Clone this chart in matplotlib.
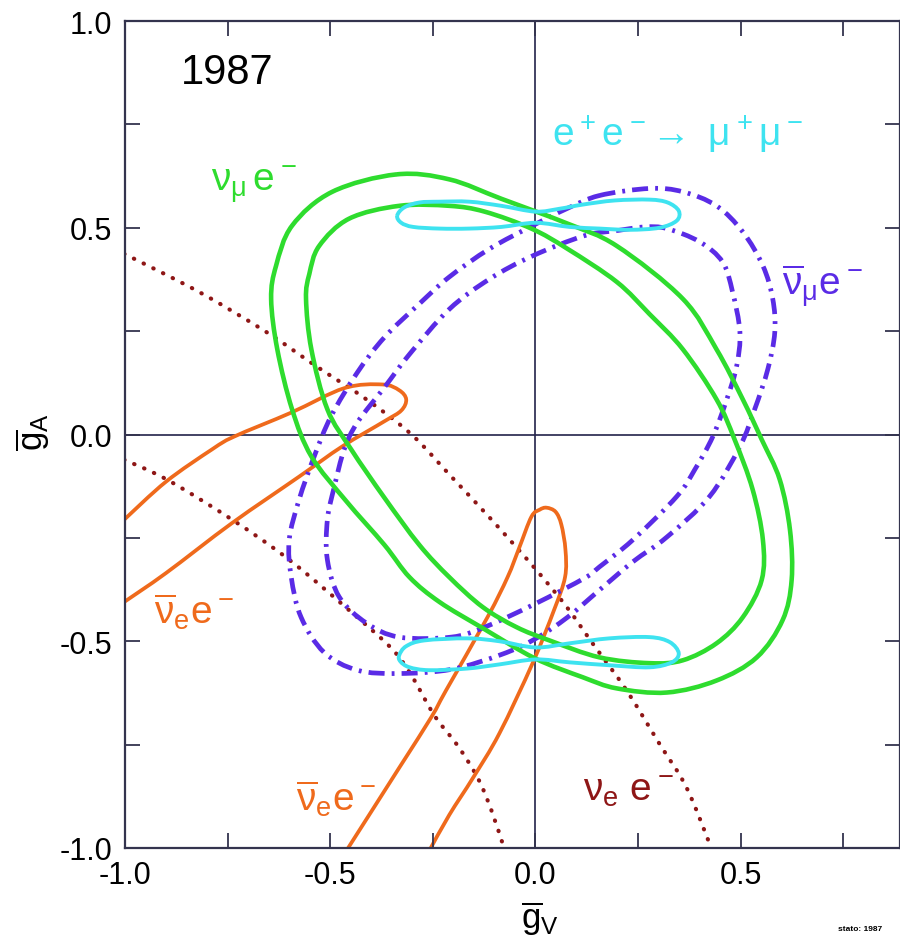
import matplotlib
matplotlib.use('Agg')
from matplotlib import pyplot as plt
from matplotlib.ticker import FormatStrFormatter
from matplotlib.path import Path
from matplotlib.patches import PathPatch

plt.rcParams['font.family'] = ['Liberation Sans', 'DejaVu Sans']
plt.rcParams['mathtext.fontset'] = 'custom'
plt.rcParams['mathtext.rm'] = 'Liberation Sans'
plt.rcParams['mathtext.it'] = 'Liberation Sans'
plt.rcParams['mathtext.sf'] = 'Liberation Sans'
plt.rcParams['mathtext.bf'] = 'Liberation Sans:bold'
plt.rcParams['axes.unicode_minus'] = False

# numu e- contours (green), outer and inner
numu_out_v = [-0.339, -0.210, -0.083, 0.078, 0.198, 0.359, 0.441, 0.505, 0.551, 0.595, 0.620, 0.624,
              0.602, 0.539, 0.441, 0.320, 0.198, 0.115, -0.002, -0.129, -0.234, -0.307, -0.368,
              -0.462, -0.546, -0.593, -0.629, -0.644, -0.632, -0.593, -0.495, -0.339]
numu_out_a = [0.629, 0.617, 0.570, 0.510, 0.456, 0.328, 0.206, 0.085, -0.012, -0.109, -0.231, -0.352,
              -0.449, -0.539, -0.595, -0.624, -0.614, -0.587, -0.541, -0.468, -0.405, -0.345, -0.267,
              -0.160, -0.053, 0.061, 0.206, 0.328, 0.408, 0.505, 0.587, 0.629]
numu_in_v = [-0.332, -0.210, -0.124, -0.010, 0.078, 0.198, 0.278, 0.359, 0.441, 0.485, 0.529, 0.554,
             0.551, 0.505, 0.441, 0.359, 0.278, 0.156, 0.034, -0.046, -0.129, -0.210, -0.283, -0.368,
             -0.449, -0.507, -0.546, -0.559, -0.551, -0.527, -0.454, -0.332]
numu_in_a = [0.553, 0.553, 0.539, 0.498, 0.449, 0.369, 0.291, 0.206, 0.085, -0.012, -0.133, -0.255,
             -0.352, -0.442, -0.505, -0.546, -0.553, -0.539, -0.498, -0.466, -0.417, -0.345, -0.267,
             -0.153, -0.036, 0.061, 0.206, 0.328, 0.388, 0.456, 0.522, 0.553]

# e+e- -> mu+mu- contours (cyan), upper and lower
ee_top_v = [-0.337, -0.320, -0.283, -0.234, -0.161, -0.083, 0.000, 0.059, 0.115, 0.193, 0.278, 0.322,
            0.349, 0.344, 0.302, 0.229, 0.156, 0.083, 0.000, -0.083, -0.161, -0.234, -0.298, -0.327, -0.337]
ee_top_a = [0.529, 0.549, 0.561, 0.563, 0.563, 0.553, 0.539, 0.546, 0.556, 0.566, 0.568, 0.561,
            0.541, 0.517, 0.500, 0.495, 0.498, 0.502, 0.512, 0.502, 0.498, 0.498, 0.502, 0.512, 0.529]
ee_bot_v = [-0.332, -0.315, -0.271, -0.166, -0.088, 0.000, 0.083, 0.180, 0.278, 0.327, 0.349, 0.332,
            0.278, 0.180, 0.083, 0.000, -0.088, -0.166, -0.259, -0.307, -0.329, -0.332]
ee_bot_a = [-0.534, -0.512, -0.498, -0.493, -0.500, -0.515, -0.505, -0.493, -0.490, -0.502, -0.529, -0.551,
            -0.563, -0.558, -0.551, -0.544, -0.556, -0.566, -0.570, -0.563, -0.549, -0.534]

# numubar e- contours (purple dash-dot), outer and inner
numubar_out_v = [0.156, 0.278, 0.359, 0.441, 0.505, 0.554, 0.578, 0.583, 0.566, 0.534, 0.498, 0.424,
                 0.320, 0.237, 0.156, 0.078, -0.002, -0.083, -0.205, -0.332, -0.434, -0.515, -0.571,
                 -0.595, -0.600, -0.576, -0.539, -0.498, -0.434, -0.368, -0.283, -0.210, -0.112,
                 -0.007, 0.076, 0.156]
numubar_out_a = [0.578, 0.595, 0.587, 0.553, 0.490, 0.408, 0.328, 0.248, 0.158, 0.061, -0.029, -0.150,
                 -0.248, -0.308, -0.376, -0.442, -0.495, -0.532, -0.568, -0.578, -0.570, -0.527, -0.442,
                 -0.345, -0.255, -0.158, -0.053, 0.044, 0.150, 0.235, 0.316, 0.381, 0.449,
                 0.505, 0.546, 0.578]
numubar_in_v = [0.198, 0.266, 0.320, 0.400, 0.456, 0.480, 0.498, 0.490, 0.466, 0.432, 0.388, 0.344,
                0.237, 0.156, 0.120, -0.002, -0.124, -0.205, -0.332, -0.412, -0.478, -0.507, -0.507,
                -0.490, -0.466, -0.434, -0.368, -0.307, -0.210, -0.112, -0.007, 0.120, 0.198]
numubar_in_a = [0.493, 0.502, 0.498, 0.466, 0.417, 0.345, 0.248, 0.165, 0.085, -0.005, -0.085, -0.150,
                -0.255, -0.320, -0.347, -0.410, -0.466, -0.490, -0.490, -0.456, -0.393, -0.303, -0.206,
                -0.126, -0.036, 0.029, 0.114, 0.194, 0.303, 0.376, 0.432, 0.481, 0.493]

# nuebar e- contours (orange), left one and lower one
nuebar1_v = [-1.002, -0.900, -0.788, -0.734, -0.595, -0.466, -0.373, -0.332, -0.315, -0.327, -0.368,
             -0.471, -0.576, -0.739, -0.900, -1.002]
nuebar1_a = [-0.206, -0.114, -0.036, -0.005, 0.053, 0.112, 0.121, 0.107, 0.085, 0.058, 0.032,
             -0.029, -0.102, -0.214, -0.335, -0.405]
nuebar2_v = [-0.461, -0.332, -0.254, -0.218, -0.117, -0.068, -0.040, -0.010, 0.010, 0.027, 0.049, 0.063,
             0.073, 0.072, 0.045, -0.007, -0.088, -0.152, -0.210, -0.259]
nuebar2_a = [-1.007, -0.806, -0.684, -0.619, -0.442, -0.345, -0.275, -0.199, -0.182, -0.177, -0.187, -0.218,
             -0.279, -0.345, -0.425, -0.553, -0.723, -0.830, -0.920, -1.007]

# nue e- band (dark red dotted), upper and lower edge
nue_up_v = [-1.002, -0.820, -0.656, -0.534, -0.412, -0.302, -0.205, -0.107, -0.002, 0.076, 0.139, 0.222,
            0.302, 0.368, 0.429]
nue_up_a = [0.437, 0.345, 0.248, 0.165, 0.085, 0.000, -0.102, -0.206, -0.323, -0.417, -0.505, -0.619,
            -0.748, -0.854, -1.002]
nue_lo_v = [-1.002, -0.898, -0.739, -0.600, -0.454, -0.351, -0.302, -0.246, -0.190, -0.141, -0.107, -0.076]
nue_lo_a = [-0.061, -0.109, -0.206, -0.303, -0.425, -0.517, -0.583, -0.680, -0.752, -0.830, -0.910, -1.002]

green = '#2edc2e'
cyan = '#3ee3f0'
purple = '#5a2be6'
orange = '#ef6a1c'
darkred = '#8e1616'
frame = '#34344e'


def smooth(v, a, closed):
    # smooth curve through the read points (Catmull-Rom drawn as Bezier segments)
    pts = list(zip(v, a))
    if closed:
        pts = pts[:-1]
    n = len(pts)
    verts = [pts[0]]
    codes = [Path.MOVETO]
    nseg = n if closed else n - 1
    for i in range(nseg):
        p1 = pts[i]
        p2 = pts[(i + 1) % n]
        p0 = pts[i - 1] if (closed or i > 0) else p1
        p3 = pts[(i + 2) % n] if (closed or i + 2 < n) else p2
        c1 = (p1[0] + (p2[0] - p0[0]) / 6, p1[1] + (p2[1] - p0[1]) / 6)
        c2 = (p2[0] - (p3[0] - p1[0]) / 6, p2[1] - (p3[1] - p1[1]) / 6)
        verts += [c1, c2, p2]
        codes += [Path.CURVE4] * 3
    return Path(verts, codes)


def draw(ax, v, a, closed, **kw):
    cap = kw.pop('capstyle', 'butt')
    p = PathPatch(smooth(v, a, closed), fill=False, **kw)
    p.set_capstyle(cap)
    ax.add_patch(p)


fig = plt.figure(figsize=(9, 9.45), dpi=100)
ax = fig.add_axes([125 / 900, 96 / 945, 775 / 900, 827 / 945])

ax.axhline(0, color='#23234a', lw=1.2, zorder=1)
ax.axvline(0, color='#23234a', lw=1.2, zorder=1)

dots = dict(edgecolor=darkred, lw=3.0, linestyle=(0, (0.1, 2.5)), capstyle='round')
draw(ax, nue_up_v, nue_up_a, False, **dots)
draw(ax, nue_lo_v, nue_lo_a, False, **dots)

draw(ax, nuebar1_v, nuebar1_a, False, edgecolor=orange, lw=2.7)
draw(ax, nuebar2_v, nuebar2_a, False, edgecolor=orange, lw=2.7)

dashdot = dict(edgecolor=purple, lw=3.4, linestyle=(0, (3.4, 1.5, 0.6, 1.5)))
draw(ax, numubar_out_v, numubar_out_a, True, **dashdot)
draw(ax, numubar_in_v, numubar_in_a, True, **dashdot)

draw(ax, numu_out_v, numu_out_a, True, edgecolor=green, lw=3.3)
draw(ax, numu_in_v, numu_in_a, True, edgecolor=green, lw=3.3)

draw(ax, ee_top_v, ee_top_a, True, edgecolor=cyan, lw=2.8)
draw(ax, ee_bot_v, ee_bot_a, True, edgecolor=cyan, lw=2.8)

ax.set_xlim(-1.0, 0.888)
ax.set_ylim(-1.0, 1.0)
ax.set_xticks([-1.0, -0.5, 0.0, 0.5])
ax.set_xticks([-0.75, -0.25, 0.25, 0.75], minor=True)
ax.set_yticks([-1.0, -0.5, 0.0, 0.5, 1.0])
ax.set_yticks([-0.75, -0.25, 0.25, 0.75], minor=True)
ax.xaxis.set_major_formatter(FormatStrFormatter('%.1f'))
ax.yaxis.set_major_formatter(FormatStrFormatter('%.1f'))
ax.tick_params(which='both', direction='in', top=True, right=True, length=11, width=1.3, color=frame)
ax.tick_params(axis='both', labelsize=22, pad=9)
for s in ax.spines.values():
    s.set_color(frame)
    s.set_linewidth(1.6)

ax.text(-0.863, 0.85, '1987', fontsize=30)
ax.text(-0.79, 0.587, r'$\nu_\mu\,e^-$', color=green, fontsize=28)
ax.text(0.041, 0.70, r'$e^+e^-\!\rightarrow\ \mu^+\mu^-$', color=cyan, fontsize=28)
ax.text(0.60, 0.335, r'$\overline{\nu}_\mu e^-$', color=purple, fontsize=28)
ax.text(-0.929, -0.454, r'$\overline{\nu}_e e^-$', color=orange, fontsize=28)
ax.text(-0.583, -0.908, r'$\overline{\nu}_e e^-$', color=orange, fontsize=28)
ax.text(0.115, -0.886, r'$\nu_e\ e^-$', color=darkred, fontsize=28)

fig.text(540 / 900, (945 - 928) / 945, r'$\overline{g}_V$', fontsize=25, ha='center', va='baseline')
fig.text(32 / 900, (945 - 432) / 945, r'$\overline{g}_A$', fontsize=25, ha='center', va='center', rotation=90)
fig.text(838 / 900, (945 - 931) / 945, 'stato: 1987', fontsize=6, fontweight='bold')

fig.savefig('out.png', dpi=100)
